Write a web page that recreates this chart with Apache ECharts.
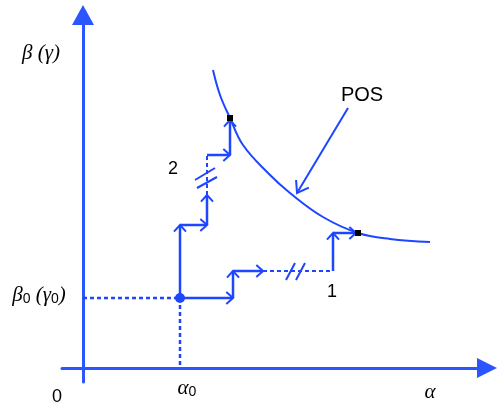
<!DOCTYPE html>
<html><head><meta charset="utf-8">
<script src="https://cdn.jsdelivr.net/npm/echarts@6/dist/echarts.min.js"></script>
<style>html,body{margin:0;padding:0;background:#fff}#c{width:497px;height:410px}</style>
</head><body><div id="c"></div>
<script>
// ---- data (α, β units) ----
const posCurve = [[13.0,29.8],[13.7,27.3],[14.7,25.0],[16.0,22.3],[18.5,19.5],[20.7,17.5],[24.0,15.1],[27.5,13.5],[30.7,12.9],[34.7,12.6]];
const startPoint = [[9.7,7.0]];
const hitPoints = [[14.7,25.0],[27.5,13.5]];
// path 1 (α first) segments [α1,β1,α2,β2]
const path1Solid = [[9.7,7.0,15.0,7.0],[15.0,7.0,15.0,9.7],[15.0,9.7,18.0,9.7],[25.0,9.7,25.0,13.5],[25.0,13.5,27.3,13.5]];
const path1Dashed = [[18.0,9.7,25.0,9.7]];
const path1Break = [[20.3,8.8,21.2,10.5],[21.3,8.8,22.2,10.5]];
// path 2 (β first)
const path2Solid = [[9.7,7.0,9.7,14.3],[9.7,14.3,12.4,14.3],[12.4,14.3,12.4,17.3],[12.4,21.3,14.7,21.3],[14.7,21.3,14.7,24.8]];
const path2Dashed = [[12.4,17.3,12.4,21.3]];
const path2Break = [[11.2,18.8,13.2,20.0],[11.4,18.0,13.4,19.1]];
const guideLines = [[0,7.0,9.7,7.0],[9.7,7.0,9.7,0]];
const posPointer = [[26.5,26.0,21.4,17.5]];
const textLabels = ['{g|β (γ)}','2','1','{g|β}{s|0}{g| (γ}{s|0}{g|)}','0','{g|α}{s|0}','{g|α}','{b|POS}'];
const textAnchors = [[-4.2,31.5],[9.0,19.9],[24.9,7.6],[-4.4,7.3],[-2.6,-2.9],[10.4,-2.0],[34.7,-2.4],[27.9,27.3]];

const BLUE = '#1e46ff';
function segSeries(data, opts){
  return {
    type:'custom', data:data, clip:false, silent:true, z: opts.z||3,
    encode:{x:[0,2], y:[1,3]},
    renderItem:function(params, api){
      const p1 = api.coord([api.value(0), api.value(1)]);
      const p2 = api.coord([api.value(2), api.value(3)]);
      const children = [{type:'line', shape:{x1:p1[0],y1:p1[1],x2:p2[0],y2:p2[1]},
        style:{stroke:opts.color||BLUE, lineWidth:opts.width||2.5, lineDash:opts.dash||null, lineCap:'butt'}}];
      if (opts.arrow){
        const dx=p2[0]-p1[0], dy=p2[1]-p1[1], len=Math.hypot(dx,dy)||1;
        const ux=dx/len, uy=dy/len, L=opts.head||9, a=opts.angle||(42*Math.PI/180);
        const c=Math.cos(a), s=Math.sin(a);
        const w1=[p2[0]-L*(ux*c-uy*s), p2[1]-L*(uy*c+ux*s)];
        const w2=[p2[0]-L*(ux*c+uy*s), p2[1]-L*(uy*c-ux*s)];
        children.push({type:'polyline', shape:{points:[w1,p2,w2]}, style:{stroke:opts.color||BLUE, lineWidth:opts.hw||2, fill:null}});
      }
      return {type:'group', children:children};
    }
  };
}

const chart = echarts.init(document.getElementById('c'), null, {renderer:'canvas'});
const axisCommon = {axisTick:{show:false}, axisLabel:{show:false}, splitLine:{show:false}};
chart.setOption({
  animation:false,
  backgroundColor:'#ffffff',
  grid:{left:62, right:10, top:15, bottom:28},
  xAxis:Object.assign({type:'value', min:-2.1, max:40.4,
    axisLine:{show:true, onZero:true, symbol:['none','triangle'], symbolSize:[20,20], lineStyle:{color:'#2a55ff', width:3}}}, axisCommon),
  yAxis:Object.assign({type:'value', min:-1.4, max:35.3,
    axisLine:{show:true, onZero:true, symbol:['none','triangle'], symbolSize:[22,20], lineStyle:{color:'#2a55ff', width:3}}}, axisCommon),
  series:[
    {type:'line', data:posCurve, smooth:0.4, showSymbol:false, clip:false, silent:true,
      lineStyle:{color:BLUE, width:2}, z:2},
    segSeries(guideLines, {dash:[4,3], width:2.5}),
    segSeries(path1Solid, {arrow:true}),
    segSeries(path1Dashed, {dash:[4,3], width:2}),
    segSeries(path1Break, {width:2}),
    segSeries(path2Solid, {arrow:true}),
    segSeries(path2Dashed, {dash:[4,3], width:2}),
    segSeries(path2Break, {width:2}),
    segSeries(posPointer, {arrow:true, width:2, head:13, angle:35*Math.PI/180}),
    {type:'scatter', data:startPoint, symbol:'circle', symbolSize:10, clip:false, silent:true,
      itemStyle:{color:BLUE, opacity:1}, z:5},
    {type:'scatter', data:hitPoints, symbol:'rect', symbolSize:6, clip:false, silent:true,
      itemStyle:{color:'#000', opacity:1}, z:6},
    {type:'scatter', data:textAnchors.map((p,i)=>({value:p, name:textLabels[i]})), symbolSize:0, clip:false, silent:true, z:7,
      itemStyle:{opacity:1},
      label:{show:true, position:'inside', formatter:function(p){return p.name;}, color:'#000',
        textBorderWidth:0, fontFamily:'Liberation Sans', fontSize:18,
        rich:{
          g:{fontFamily:'Liberation Serif', fontStyle:'italic', fontSize:21, lineHeight:22, color:'#000', textBorderWidth:0},
          s:{fontFamily:'Liberation Sans', fontSize:14, lineHeight:12, verticalAlign:'bottom', color:'#000', textBorderWidth:0},
          b:{fontFamily:'Liberation Sans', fontSize:20, color:'#000', textBorderWidth:0}
        }}}
  ]
});
</script></body></html>
